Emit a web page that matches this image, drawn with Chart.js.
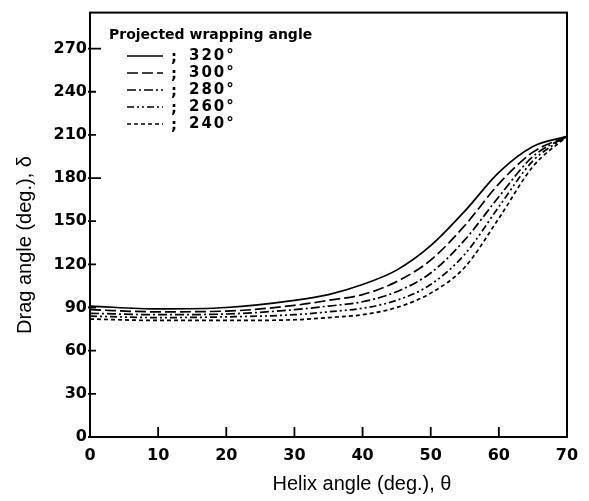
<!DOCTYPE html>
<html>
<head>
<meta charset="utf-8">
<script src="https://cdn.jsdelivr.net/npm/chart.js@4/dist/chart.umd.min.js"></script>
<style>
  html, body { margin: 0; padding: 0; background: #fff; }
  #wrap { width: 589px; height: 501px; }
</style>
</head>
<body>
<div id="wrap"><canvas id="chart"></canvas></div>
<script>
// helix angle (deg.) sample points
const helix = [0, 10, 20, 30, 35, 40, 45, 50, 55, 60, 65, 70];
// drag angle for each projected wrapping angle
const drag320 = [91, 89, 90, 95, 99, 106, 116, 133, 157, 184, 202, 209];
const drag300 = [88.5, 87, 87.5, 91.5, 95, 99, 108, 123, 147, 176, 198, 209];
const drag280 = [86, 85, 85.5, 88.5, 91, 94, 101, 114, 137, 167, 195, 209];
const drag260 = [84, 83, 83.5, 85, 87, 89.5, 95, 106, 127, 160, 192, 209];
const drag240 = [82, 81, 81, 81.5, 83, 85, 90, 100, 118, 152, 188, 209];
const wrapLabels = ['320°', '300°', '280°', '260°', '240°'];
const yTicks = [0, 30, 60, 90, 120, 150, 180, 210, 240, 270];
const xTicks = [0, 10, 20, 30, 40, 50, 60, 70];
const longTicks = [180, 270];

const dashes = [[], [11, 4], [9, 3, 2, 3], [7, 3, 2, 3, 2, 3], [4, 3]];
const series = [drag320, drag300, drag280, drag260, drag240];

const datasets = series.map((vals, i) => ({
  label: wrapLabels[i],
  data: helix.map((h, j) => ({ x: h, y: vals[j] })),
  borderColor: '#000',
  borderWidth: 1.7,
  borderDash: dashes[i],
  pointRadius: 0,
  fill: false,
  cubicInterpolationMode: 'monotone',
}));

const FONT = '"Liberation Sans", Arial, sans-serif';
const BOLD = '"DejaVu Sans", sans-serif';

// frame, inward ticks, axis titles and the legend box
const decor = {
  id: 'decor',
  afterDraw(chart) {
    const { ctx, chartArea: a, scales: { x, y } } = chart;
    ctx.save();
    ctx.strokeStyle = '#000';
    ctx.lineWidth = 2;
    ctx.strokeRect(a.left, a.top, a.right - a.left, a.bottom - a.top);

    ctx.lineWidth = 1.8;
    ctx.beginPath();
    xTicks.forEach(v => {
      const px = x.getPixelForValue(v);
      ctx.moveTo(px, a.bottom);
      ctx.lineTo(px, a.bottom - 10);
    });
    yTicks.forEach(v => {
      const py = y.getPixelForValue(v);
      ctx.moveTo(a.left - 2, py);
      ctx.lineTo(a.left + (longTicks.includes(v) ? 11 : 6), py);
    });
    ctx.stroke();

    ctx.fillStyle = '#000';
    ctx.font = '20px ' + FONT;
    ctx.textAlign = 'center';
    ctx.textBaseline = 'middle';
    ctx.fillText('Helix angle (deg.), θ', 362, 484);
    ctx.save();
    ctx.translate(25, 245);
    ctx.rotate(-Math.PI / 2);
    ctx.fillText('Drag angle (deg.), δ', 0, 0);
    ctx.restore();

    // legend
    ctx.textAlign = 'left';
    ctx.font = 'bold 14px ' + BOLD;
    ctx.fillText('Projected wrapping angle', 109, 35);
    ctx.lineWidth = 1.4;
    chart.data.datasets.forEach((ds, i) => {
      const ly = 56 + i * 17;
      ctx.setLineDash(ds.borderDash);
      ctx.beginPath();
      ctx.moveTo(127, ly);
      ctx.lineTo(163, ly);
      ctx.stroke();
      ctx.setLineDash([]);
      ctx.font = 'bold 15px ' + BOLD;
      ctx.fillText(';', 171, ly + 2);
      ctx.letterSpacing = '2px';
      ctx.fillText(ds.label, 189, ly);
      ctx.letterSpacing = '0px';
    });
    ctx.restore();
  }
};

new Chart(document.getElementById('chart'), {
  type: 'line',
  data: { datasets },
  options: {
    responsive: true,
    maintainAspectRatio: false,
    animation: false,
    layout: { padding: { left: 0, right: 22, top: 3, bottom: 0 } },
    plugins: { legend: { display: false }, tooltip: { enabled: false } },
    scales: {
      x: {
        type: 'linear',
        min: 0,
        max: 70,
        grid: { display: false, drawTicks: false },
        border: { display: false },
        afterBuildTicks: s => { s.ticks = xTicks.map(v => ({ value: v })); },
        afterFit: s => { s.height = 64; },
        ticks: {
          color: '#000',
          padding: 9,
          maxRotation: 0,
          font: { family: BOLD, size: 16, weight: 'bold' },
        },
      },
      y: {
        min: 0,
        max: 295,
        grid: { display: false, drawTicks: false },
        border: { display: false },
        afterBuildTicks: s => { s.ticks = yTicks.map(v => ({ value: v })); },
        afterFit: s => { s.width = 90; },
        ticks: {
          color: '#000',
          padding: 3,
          font: { family: BOLD, size: 16, weight: 'bold' },
        },
      },
    },
  },
  plugins: [decor],
});
</script>
</body>
</html>
